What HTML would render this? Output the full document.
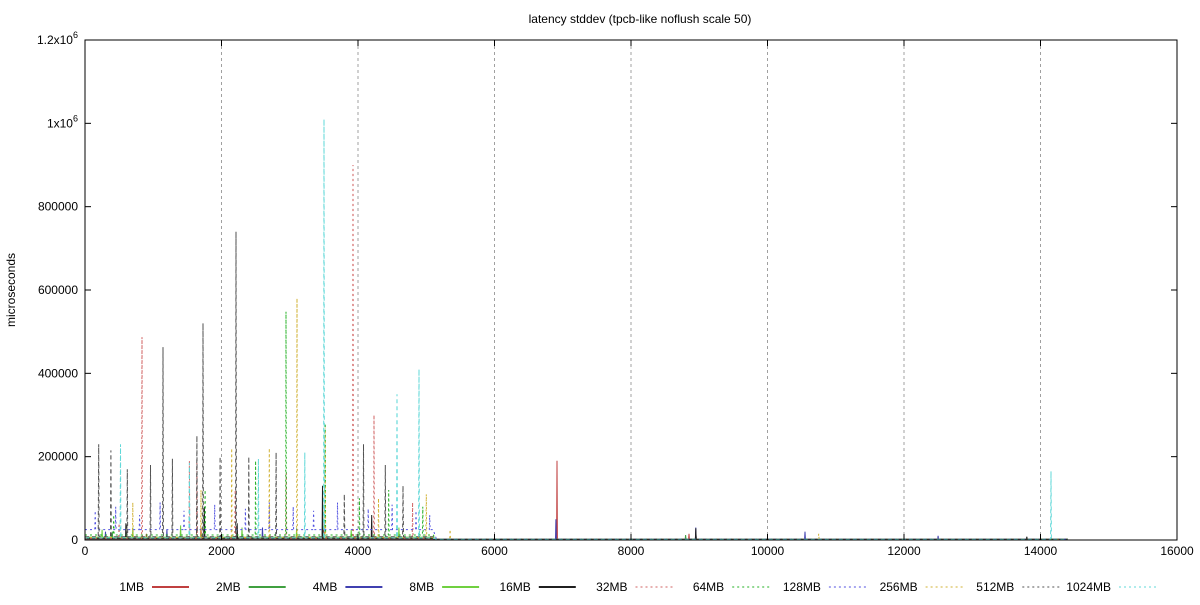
<!DOCTYPE html>
<html><head><meta charset="utf-8">
<style>
body{margin:0;background:#fff;}
svg text{font-family:"Liberation Sans",sans-serif;font-size:12px;fill:#000;}
</style></head>
<body>
<svg id="chart" width="1200" height="600" xmlns="http://www.w3.org/2000/svg">
<text x="640" y="23" text-anchor="middle">latency stddev (tpcb-like noflush scale 50)</text>
<text transform="translate(15,290) rotate(-90)" text-anchor="middle">microseconds</text>
<g id="grid"></g><g id="series"></g><g id="axes"></g><g id="legend"></g>
</svg>
<script>
const xTicks=[0,2000,4000,6000,8000,10000,12000,14000,16000];
const yTicks=[0,200000,400000,600000,800000,1000000,1200000];
const yTickLabels=["0","200000","400000","600000","800000","1x10^6","1.2x10^6"];
const seriesNames=["1MB","2MB","4MB","8MB","16MB","32MB","64MB","128MB","256MB","512MB","1024MB"];
const seriesColors=["#c04040","#40a040","#4040b0","#70d040","#202020","#d06060","#20b020","#5050e0","#d0b030","#505050","#60d8d8"];
const seriesDash=["","","","","","2,3","2,3","2,3","2,3","4,3","4,3"];
const baseEarly=[3000,5000,6000,7000,3000,4000,12000,25000,6000,8000,5000];
const baseLate=[2500,2000,2000,1500,2000,1500,1500,2000,1500,1500,1500];
const spikes1MB=[[900,15000],[1700,30000],[3500,30000],[6916,190000],[8850,15000],[8950,20000]];
const spikes2MB=[[400,20000],[1750,60000],[3480,40000],[8950,20000],[8800,12000]];
const spikes4MB=[[300,20000],[1200,25000],[2600,30000],[6900,50000],[8950,30000],[10550,20000],[12500,10000]];
const spikes8MB=[[250,25000],[700,30000],[1400,35000],[2300,30000],[3100,28000],[3900,25000],[4600,30000]];
const spikes16MB=[[600,40000],[1750,80000],[2230,40000],[3480,130000],[4200,60000],[8950,28000],[13800,8000]];
const spikes32MB=[[500,40000],[835,487000],[1530,190000],[1640,185000],[2200,120000],[2950,160000],[3927,900000],[4234,300000],[4800,90000]];
const spikes64MB=[[420,60000],[1760,120000],[2500,190000],[2945,548000],[3520,280000],[4020,100000],[4450,120000],[4950,80000]];
const spikes128MB=[[150,70000],[450,80000],[800,60000],[1100,90000],[1450,70000],[1900,85000],[2350,75000],[2700,90000],[3050,80000],[3350,70000],[3700,90000],[4150,75000],[4500,85000],[4850,70000],[5050,60000]];
const spikes256MB=[[700,90000],[1700,120000],[2150,220000],[2700,220000],[3106,580000],[3520,270000],[4300,100000],[5000,110000],[5350,25000],[10750,15000]];
const spikes512MB=[[200,230000],[380,215000],[620,170000],[960,180000],[1143,463000],[1280,195000],[1640,250000],[1729,520000],[1980,200000],[2212,740000],[2400,200000],[2800,210000],[3800,110000],[4080,230000],[4400,180000],[4660,130000]];
const spikes1024MB=[[520,230000],[1530,185000],[2540,195000],[3220,210000],[3502,1010000],[4571,350000],[4894,410000],[14154,165000]];
const allSpikes=[spikes1MB,spikes2MB,spikes4MB,spikes8MB,spikes16MB,spikes32MB,spikes64MB,spikes128MB,spikes256MB,spikes512MB,spikes1024MB];
const X0=85,X1=1177,Y0=540,Y1=40;
const xs=v=>X0+(v-0)/16000*(X1-X0);
const ys=v=>Y0-v/1200000*(Y0-Y1);
const NS="http://www.w3.org/2000/svg";
function mk(tag,attrs,parent){const e=document.createElementNS(NS,tag);for(const k in attrs)e.setAttribute(k,attrs[k]);parent.appendChild(e);return e;}
const grid=document.getElementById('grid'),axes=document.getElementById('axes'),ser=document.getElementById('series'),leg=document.getElementById('legend');
xTicks.forEach((t,i)=>{
 if(t>0&&t<16000){const g=mk('line',{x1:xs(t),x2:xs(t),y1:Y1,y2:Y0,stroke:'#a0a0a0','stroke-dasharray':'3,3'},grid);
 
 }
 const tk=mk('line',{x1:xs(t),x2:xs(t),y1:Y0,y2:Y0-6,stroke:'#000'},axes);
 
 
 mk('line',{x1:xs(t),x2:xs(t),y1:Y1,y2:Y1+6,stroke:'#000'},axes);
 const tx=mk('text',{x:xs(t),y:Y0+15,'text-anchor':'middle'},axes);tx.textContent=t;
 
 
});
yTicks.forEach((t,i)=>{
 const tk=mk('line',{x1:X0,x2:X0+6,y1:ys(t),y2:ys(t),stroke:'#000'},axes);
 
 
 mk('line',{x1:X1,x2:X1-6,y1:ys(t),y2:ys(t),stroke:'#000'},axes);
 const tx=mk('text',{x:X0-7,y:ys(t)+4,'text-anchor':'end'},axes);
 
 
 const lab=yTickLabels[i];
 if(lab.includes('^')){const [a,b]=lab.split('^');tx.textContent=a;const s=mk('tspan',{dy:-6,'font-size':'9'},tx);s.textContent=b;}
 else tx.textContent=lab;
});
const fr=mk('rect',{x:X0,y:Y1,width:X1-X0,height:Y0-Y1,fill:'none',stroke:'#000'},axes);


allSpikes.forEach((sp,i)=>{
 const pts=[];const be=baseEarly[i],bl=baseLate[i];
 const base=x=>x<5100?be:(x<14400?bl:0);
 pts.push([0,be]);
 const s=sp.slice().sort((a,b)=>a[0]-b[0]);
 let added5100=false;
 s.forEach(([x,v])=>{
  if(!added5100&&x>5100){pts.push([5100,be]);pts.push([5150,bl]);added5100=true;}
  pts.push([x-6,base(x)]);pts.push([x,v]);pts.push([x+6,base(x)]);
 });
 if(!added5100){pts.push([5100,be]);pts.push([5150,bl]);}
 pts.push([14400,bl]);
 const d=pts.map((p,j)=>(j?'L':'M')+xs(p[0]).toFixed(1)+','+ys(p[1]).toFixed(1)).join('');
 const p=mk('path',{d:d,fill:'none',stroke:seriesColors[i],'stroke-width':1},ser);
 if(seriesDash[i])p.setAttribute('stroke-dasharray',seriesDash[i]);
 
 
});
seriesNames.forEach((n,i)=>{
 const xe=144+96.7*i;
 const t=mk('text',{x:xe,y:591,'text-anchor':'end'},leg);t.textContent=n;
 
 
 const l=mk('line',{x1:xe+8,x2:xe+45,y1:587,y2:587,stroke:seriesColors[i],'stroke-width':seriesDash[i]?1:2},leg);
 if(seriesDash[i])l.setAttribute('stroke-dasharray','2,3');
 
 
});
</script>
</body></html>
